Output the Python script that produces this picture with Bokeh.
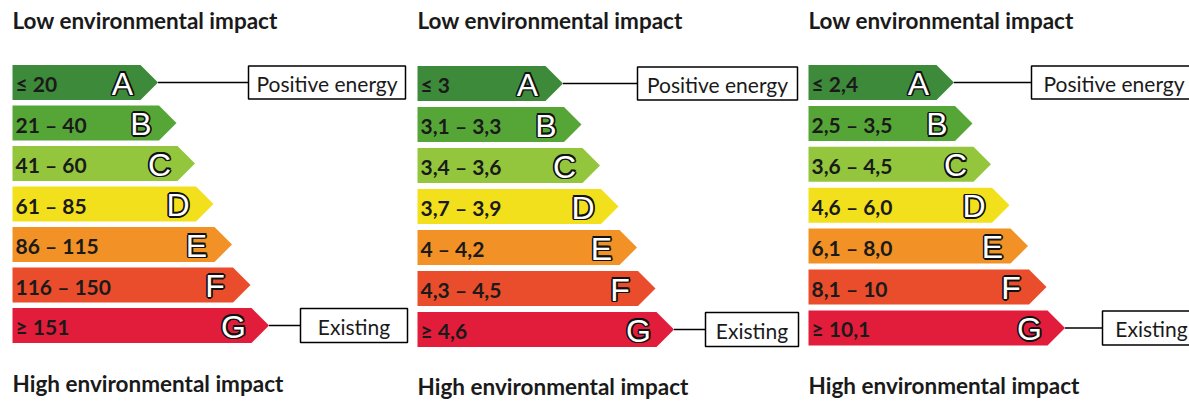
from bokeh.plotting import figure
from bokeh.models import ColumnDataSource, Range1d
from bokeh.core.properties import value
from bokeh.embed import file_html
from bokeh.resources import INLINE

# ---------------- data ----------------
classes = ["A", "B", "C", "D", "E", "F", "G"]
ranges_1 = ["≤ 20", "21 – 40", "41 – 60", "61 – 85", "86 – 115", "116 – 150", "≥ 151"]
ranges_2 = ["≤ 3", "3,1 – 3,3", "3,4 – 3,6", "3,7 – 3,9", "4 – 4,2", "4,3 – 4,5", "≥ 4,6"]
ranges_3 = ["≤ 2,4", "2,5 – 3,5", "3,6 – 4,5", "4,6 – 6,0", "6,1 – 8,0", "8,1 – 10", "≥ 10,1"]
top_label = "Low environmental impact"
bottom_label = "High environmental impact"
best_label = "Positive energy"
worst_label = "Existing"

# ---------------- style / layout ----------------
colors = ["#3d8a3a", "#56a637", "#93c63c", "#f3e01c", "#f29126", "#e94d2b", "#e21d3b"]
panels = [
    dict(ranges=ranges_1, x0=12, y0=82, step=40.5, top_y=20, bot_y=383,
         best_x=248, best_w=157, worst_x=300, worst_w=107),
    dict(ranges=ranges_2, x0=417, y0=83, step=41.0, top_y=20, bot_y=386,
         best_x=637, best_w=160, worst_x=705, worst_w=93),
    dict(ranges=ranges_3, x0=808, y0=82, step=40.9, top_y=20, bot_y=385,
         best_x=1031, best_w=165, worst_x=1102, worst_w=98),
]
BAR_H = 35
BASE_LEN = 128
LEN_STEP = 18.5

W, H = 1189, 401
p = figure(width=W, height=H, x_range=Range1d(0, W), y_range=Range1d(H, 0),
           output_backend="svg", toolbar_location=None, min_border=0)
p.axis.visible = False
p.grid.visible = False
p.outline_line_color = None
p.background_fill_color = "white"

font = value("Lato")
FS = "21px"
outline_offsets = [(-1.7, 0), (1.7, 0), (0, -1.7), (0, 1.7),
                   (-1.2, -1.2), (1.2, -1.2), (-1.2, 1.2), (1.2, 1.2)]

for pn in panels:
    x0, y0, step = pn["x0"], pn["y0"], pn["step"]
    xs, ys, lx, ly, rx, cy, tips = [], [], [], [], [], [], []
    for i, c in enumerate(classes):
        yc = y0 + i * step
        L = BASE_LEN + LEN_STEP * i
        h2 = BAR_H / 2
        xs.append([x0, x0 + L, x0 + L + h2, x0 + L, x0])
        ys.append([yc - h2, yc - h2, yc, yc + h2, yc + h2])
        lx.append(x0 + L - 18)
        ly.append(yc + 1)
        rx.append(x0 + 3)
        cy.append(yc + 1)
        tips.append(x0 + L + h2)
    src = ColumnDataSource(dict(xs=xs, ys=ys, color=colors, letter=classes,
                                lx=lx, ly=ly, rx=rx, cy=cy, rng=pn["ranges"]))
    p.patches("xs", "ys", fill_color="color", line_color=None, source=src)
    p.text("rx", "cy", text="rng", source=src, text_font=font,
           text_font_style="bold", text_font_size=FS, text_color="#1a1a1a",
           text_align="left", text_baseline="middle")
    for dx, dy in outline_offsets:
        p.text("lx", "ly", text="letter", source=src, text_font=value("Liberation Sans"),
               text_font_size="32px", text_color="#111111", x_offset=dx, y_offset=dy,
               text_align="center", text_baseline="middle")
    p.text("lx", "ly", text="letter", source=src, text_font=value("Liberation Sans"),
           text_font_size="32px", text_color="white",
           text_align="center", text_baseline="middle")

    # callouts
    ya = y0
    yg = y0 + 6 * step
    p.segment(x0=[tips[0], tips[6]], y0=[ya, yg], x1=[pn["best_x"], pn["worst_x"]],
              y1=[ya, yg], line_color="black", line_width=1.5)
    p.quad(left=[pn["best_x"], pn["worst_x"]],
           right=[pn["best_x"] + pn["best_w"], pn["worst_x"] + pn["worst_w"]],
           top=[ya - 16.5, yg - 17], bottom=[ya + 16.5, yg + 17],
           fill_color="white", line_color="black", line_width=1.5)
    p.text(x=[pn["best_x"] + pn["best_w"] / 2, pn["worst_x"] + pn["worst_w"] / 2],
           y=[ya + 1, yg + 1], text=[best_label, worst_label], text_font=font,
           text_font_size=FS, text_color="#1a1a1a", text_align="center",
           text_baseline="middle")

    # titles
    p.text(x=[x0, x0], y=[pn["top_y"], pn["bot_y"]], text=[top_label, bottom_label],
           text_font=font, text_font_style="bold", text_font_size="22.5px",
           text_color="#1a1a1a", text_align="left", text_baseline="middle")

open("out.html", "w").write(file_html(p, INLINE))
